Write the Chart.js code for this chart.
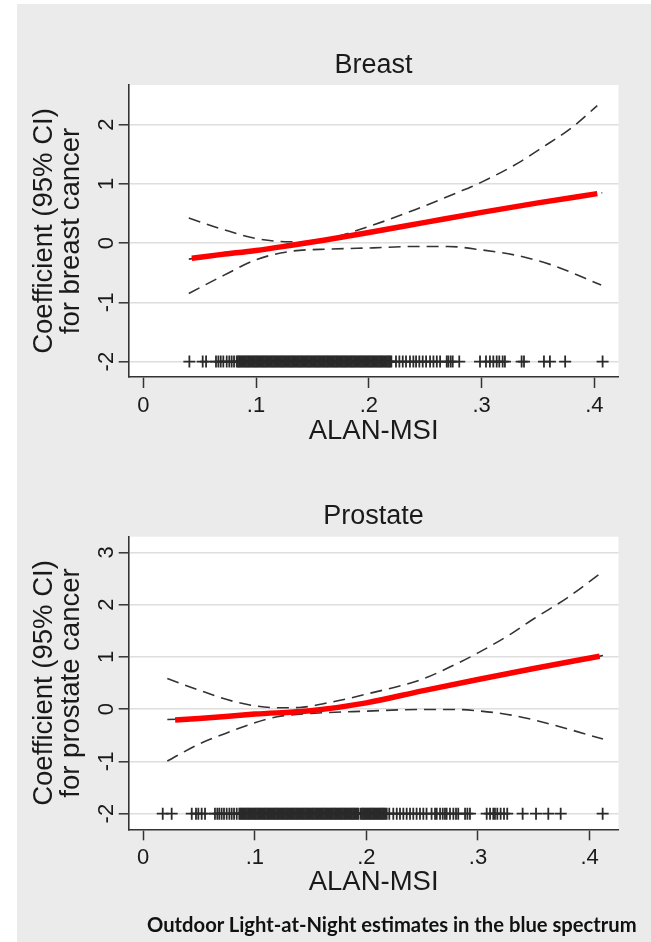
<!DOCTYPE html>
<html><head><meta charset="utf-8">
<script src="https://cdn.jsdelivr.net/npm/chart.js@4.4.1/dist/chart.umd.min.js"></script>
<style>
html,body{margin:0;padding:0;background:#fff;width:651px;height:942px;overflow:hidden;}
#page{position:absolute;left:17px;top:4px;width:634px;height:938px;background:#ebebeb;}
#c1{position:absolute;left:0;top:0;}
#c2{position:absolute;left:0;top:470px;}
#foot{position:absolute;left:147px;top:912px;font-family:Lato,"Open Sans",sans-serif;font-weight:bold;font-size:20.2px;color:#111;white-space:nowrap;}
</style></head><body>
<div id="page"></div>
<canvas id="c1" width="651" height="470"></canvas>
<canvas id="c2" width="651" height="470"></canvas>
<div id="foot">Outdoor Light-at-Night estimates in the blue spectrum</div>
<script>
// ---------- data ----------
const xTicks = [0, 0.1, 0.2, 0.3, 0.4];
const xTickLabels = ['0', '.1', '.2', '.3', '.4'];
const breastYTicks = [-2, -1, 0, 1, 2];
const prostateYTicks = [-2, -1, 0, 1, 2, 3];
const rugY = -2;

// Breast
const breastEstX = [0.043, 0.07, 0.1, 0.13, 0.16, 0.2, 0.25, 0.3, 0.35, 0.4026];
const breastEstY = [-0.254, -0.19, -0.124, -0.04, 0.05, 0.18, 0.35, 0.52, 0.68, 0.836];
const breastEstFullX = [0.0404, 0.07, 0.1, 0.13, 0.16, 0.2, 0.25, 0.3, 0.35, 0.407];
const breastEstFullY = [-0.27, -0.19, -0.124, -0.04, 0.05, 0.18, 0.35, 0.52, 0.68, 0.85];
const breastUpX = [0.0404, 0.0717, 0.1, 0.13, 0.1526, 0.167, 0.2, 0.241, 0.278, 0.3, 0.333, 0.351, 0.38, 0.4026];
const breastUpY = [0.424, 0.226, 0.079, 0.023, 0.028, 0.085, 0.28, 0.565, 0.85, 1.03, 1.36, 1.58, 1.95, 2.32];
const breastLoX = [0.0404, 0.0717, 0.1, 0.13, 0.167, 0.204, 0.241, 0.27, 0.2996, 0.333, 0.362, 0.406];
const breastLoY = [-0.85, -0.54, -0.28, -0.14, -0.10, -0.08, -0.056, -0.056, -0.113, -0.215, -0.367, -0.706];
const breastRugX = [0.0409, 0.0527, 0.0557, 0.0645, 0.0666, 0.0687, 0.071, 0.074, 0.0763, 0.0784, 0.0805, 0.0829,
  0.084, 0.085, 0.086, 0.087, 0.088, 0.089, 0.090, 0.091, 0.092, 0.093, 0.094, 0.095, 0.096, 0.097, 0.098, 0.099,
  0.100, 0.101, 0.102, 0.103, 0.104, 0.105, 0.106, 0.107, 0.108, 0.109, 0.110, 0.111, 0.112, 0.113, 0.114, 0.115,
  0.116, 0.117, 0.118, 0.119, 0.120, 0.121, 0.122, 0.123, 0.124, 0.125, 0.126, 0.127, 0.128, 0.129, 0.130, 0.131,
  0.132, 0.133, 0.134, 0.135, 0.136, 0.137, 0.138, 0.139, 0.140, 0.141, 0.142, 0.143, 0.144, 0.145, 0.146, 0.147,
  0.148, 0.149, 0.150, 0.151, 0.152, 0.153, 0.154, 0.155, 0.156, 0.157, 0.158, 0.159, 0.160, 0.161, 0.162, 0.163,
  0.164, 0.165, 0.166, 0.167, 0.168, 0.169, 0.170, 0.171, 0.172, 0.173, 0.174, 0.175, 0.176, 0.177, 0.178, 0.179,
  0.180, 0.181, 0.182, 0.183, 0.184, 0.185, 0.186, 0.187, 0.188, 0.189, 0.190, 0.191, 0.192, 0.193, 0.194, 0.195,
  0.196, 0.197, 0.198, 0.199, 0.200, 0.201, 0.202, 0.203, 0.204, 0.205, 0.206, 0.207, 0.208, 0.209, 0.210, 0.211,
  0.212, 0.213, 0.214, 0.215, 0.216, 0.217, 0.218, 0.219, 0.220,
  0.2241, 0.2271, 0.2301, 0.233, 0.2365, 0.2395, 0.2419, 0.2448, 0.2478, 0.2508, 0.2543, 0.2573, 0.2603, 0.2632,
  0.2691, 0.2705, 0.2726, 0.2744, 0.2802, 0.2986, 0.3039, 0.3074, 0.3104, 0.3134, 0.3157, 0.3187, 0.3207,
  0.3355, 0.3376, 0.3553, 0.3606, 0.3741, 0.4073];

// Prostate
const prostEstX = [0.0286, 0.05, 0.1, 0.15, 0.2, 0.25, 0.3, 0.35, 0.409];
const prostEstY = [-0.21, -0.18, -0.095, -0.03, 0.12, 0.35, 0.567, 0.777, 1.013];
const prostEstFullX = [0.0216, 0.05, 0.1, 0.15, 0.2, 0.25, 0.3, 0.35, 0.412];
const prostEstFullY = [-0.2, -0.18, -0.095, -0.03, 0.12, 0.35, 0.567, 0.777, 1.025];
const prostUpX = [0.0216, 0.05, 0.08, 0.1, 0.12, 0.14, 0.17, 0.2, 0.25, 0.28, 0.3, 0.33, 0.35, 0.38, 0.412];
const prostUpY = [0.586, 0.363, 0.153, 0.064, 0.025, 0.032, 0.14, 0.287, 0.573, 0.86, 1.076, 1.446, 1.73, 2.13, 2.637];
const prostLoX = [0.0216, 0.05, 0.08, 0.1, 0.12, 0.15, 0.2, 0.25, 0.28, 0.3, 0.33, 0.36, 0.412];
const prostLoY = [-0.994, -0.669, -0.414, -0.26, -0.146, -0.083, -0.038, -0.006, -0.006, -0.032, -0.115, -0.26, -0.573];
const prostRugX = [0.0175, 0.0255, 0.0435, 0.0473, 0.0494, 0.0524, 0.0554, 0.0643, 0.0664, 0.0682, 0.0703, 0.0724,
  0.0748, 0.0772, 0.0793, 0.0814, 0.0838, 0.0861,
  0.087, 0.088, 0.089, 0.090, 0.091, 0.092, 0.093, 0.094, 0.095, 0.096, 0.097, 0.098, 0.099, 0.100, 0.101, 0.102,
  0.103, 0.104, 0.105, 0.106, 0.107, 0.108, 0.109, 0.110, 0.111, 0.112, 0.113, 0.114, 0.115, 0.116, 0.117, 0.118,
  0.119, 0.120, 0.121, 0.122, 0.123, 0.124, 0.125, 0.126, 0.127, 0.128, 0.129, 0.130, 0.131, 0.132, 0.133, 0.134,
  0.135, 0.136, 0.137, 0.138, 0.139, 0.140, 0.141, 0.142, 0.143, 0.144, 0.145, 0.146, 0.147, 0.148, 0.149, 0.150,
  0.151, 0.152, 0.153, 0.154, 0.155, 0.156, 0.157, 0.158, 0.159, 0.160, 0.161, 0.162, 0.163, 0.164, 0.165, 0.166,
  0.167, 0.168, 0.169, 0.170, 0.171, 0.172, 0.173, 0.174, 0.175, 0.176, 0.177, 0.178, 0.179, 0.180, 0.181, 0.182,
  0.183, 0.184, 0.185, 0.186, 0.187, 0.188, 0.189, 0.190, 0.191, 0.192, 0.193, 0.195, 0.196, 0.197, 0.198, 0.199,
  0.200, 0.201, 0.202, 0.203, 0.204, 0.205, 0.206, 0.207, 0.208, 0.209, 0.210, 0.211, 0.212, 0.213, 0.214, 0.215,
  0.216, 0.217,
  0.2182, 0.2205, 0.2241, 0.2272, 0.2301, 0.2331, 0.2361, 0.2391, 0.242, 0.245, 0.248, 0.251, 0.2539, 0.2584,
  0.2615, 0.263, 0.266, 0.2684, 0.2704, 0.2719, 0.2749, 0.2779, 0.2803, 0.2823, 0.2884, 0.2905, 0.2928,
  0.3078, 0.3108, 0.3137, 0.3152, 0.3173, 0.3203, 0.3233, 0.3262, 0.34, 0.352, 0.363, 0.3741, 0.4117];

// ---------- helpers ----------
const FONT = '"Liberation Sans", Arial, sans-serif';
const INK = '#1a1a1a';
const pts = (xs, ys) => xs.map((x, i) => ({x: x, y: ys[i]}));

const plotBg = {
  id: 'plotBg',
  beforeDraw(chart) {
    const {ctx, chartArea: a} = chart;
    ctx.save();
    ctx.fillStyle = '#ffffff';
    ctx.fillRect(a.left, a.top, a.right - a.left, a.bottom - a.top);
    ctx.restore();
  }
};

function makeChart(id, cfg) {
  const dash = {showLine: true, pointRadius: 0, borderColor: '#333', borderWidth: 1.6, borderDash: [12, 7], cubicInterpolationMode: 'monotone', fill: false};
  const datasets = [
    {data: pts(cfg.estX, cfg.estY), showLine: true, pointRadius: 0, borderColor: '#ff0000', borderWidth: 5.5, cubicInterpolationMode: 'monotone', fill: false},
    Object.assign({data: pts(cfg.estFullX, cfg.estFullY)}, dash),
    Object.assign({data: pts(cfg.upX, cfg.upY)}, dash),
    Object.assign({data: pts(cfg.loX, cfg.loY)}, dash),
    {data: cfg.rugX.map(x => ({x: x, y: rugY})), showLine: false, pointStyle: 'cross', pointRadius: 6, pointBorderWidth: 1.8, pointBorderColor: '#2a2a2a', borderColor: '#2a2a2a'}
  ];
  return new Chart(document.getElementById(id), {
    type: 'scatter',
    data: {datasets},
    plugins: [plotBg],
    options: {
      responsive: false,
      animation: false,
      devicePixelRatio: 1,
      layout: {padding: {left: 0, right: 32.5, top: 0, bottom: 0}},
      plugins: {
        legend: {display: false},
        tooltip: {enabled: false},
        title: {display: true, text: cfg.title, fullSize: false, color: INK,
          font: {family: FONT, size: 27, weight: 'normal'}, padding: cfg.titlePad}
      },
      scales: {
        x: {
          type: 'linear', min: cfg.xMin, max: cfg.xMax,
          afterBuildTicks: s => { s.ticks = xTicks.map(v => ({value: v})); },
          afterFit: s => { s.height = cfg.xAxisH; },
          ticks: {color: INK, font: {family: FONT, size: 22}, maxRotation: 0, minRotation: 0, padding: cfg.xTickPad,
            callback: v => xTickLabels[xTicks.indexOf(v)]},
          grid: {drawOnChartArea: false, drawTicks: true, tickLength: 11, tickColor: '#333', tickWidth: 1.5},
          border: {display: true, color: '#333', width: 1.6},
          title: {display: true, text: 'ALAN-MSI', color: INK, font: {family: FONT, size: 27.5}, padding: {top: 0, bottom: cfg.xTitlePad}}
        },
        y: {
          type: 'linear', min: cfg.yMin, max: cfg.yMax,
          afterBuildTicks: s => { s.ticks = cfg.yTicks.map(v => ({value: v})); },
          afterFit: s => { s.width = 128.7; },
          ticks: {color: INK, font: {family: FONT, size: 22}, minRotation: 90, maxRotation: 90, crossAlign: 'center', padding: 2,
            callback: v => String(v)},
          grid: {color: '#dedede', lineWidth: 1.6, drawTicks: true, tickLength: 10, tickColor: '#333', tickWidth: 1.5},
          border: {display: true, color: '#333', width: 1.6},
          title: {display: true, text: cfg.yTitle, color: INK, font: {family: FONT, size: 27.5, lineHeight: '27px'}, padding: {top: 30.5, bottom: 0}}
        }
      }
    }
  });
}

makeChart('c1', {
  title: 'Breast', titlePad: {top: 49.8, bottom: 2.8},
  estX: breastEstX, estY: breastEstY, estFullX: breastEstFullX, estFullY: breastEstFullY,
  upX: breastUpX, upY: breastUpY, loX: breastLoX, loY: breastLoY, rugX: breastRugX,
  xMin: -0.0129, xMax: 0.4214, yMin: -2.26, yMax: 2.67, yTicks: breastYTicks,
  xAxisH: 93, xTickPad: 4.8, xTitlePad: 22.5,
  yTitle: ['Coefficient (95% CI)', 'for breast cancer']
});
makeChart('c2', {
  title: 'Prostate', titlePad: {top: 30.8, bottom: 3.5},
  estX: prostEstX, estY: prostEstY, estFullX: prostEstFullX, estFullY: prostEstFullY,
  upX: prostUpX, upY: prostUpY, loX: prostLoX, loY: prostLoY, rugX: prostRugX,
  xMin: -0.013, xMax: 0.4259, yMin: -2.30, yMax: 3.30, yTicks: prostateYTicks,
  xAxisH: 110.7, xTickPad: 4.0, xTitlePad: 41.5,
  yTitle: ['Coefficient (95% CI)', 'for prostate cancer']
});
</script>
</body></html>
